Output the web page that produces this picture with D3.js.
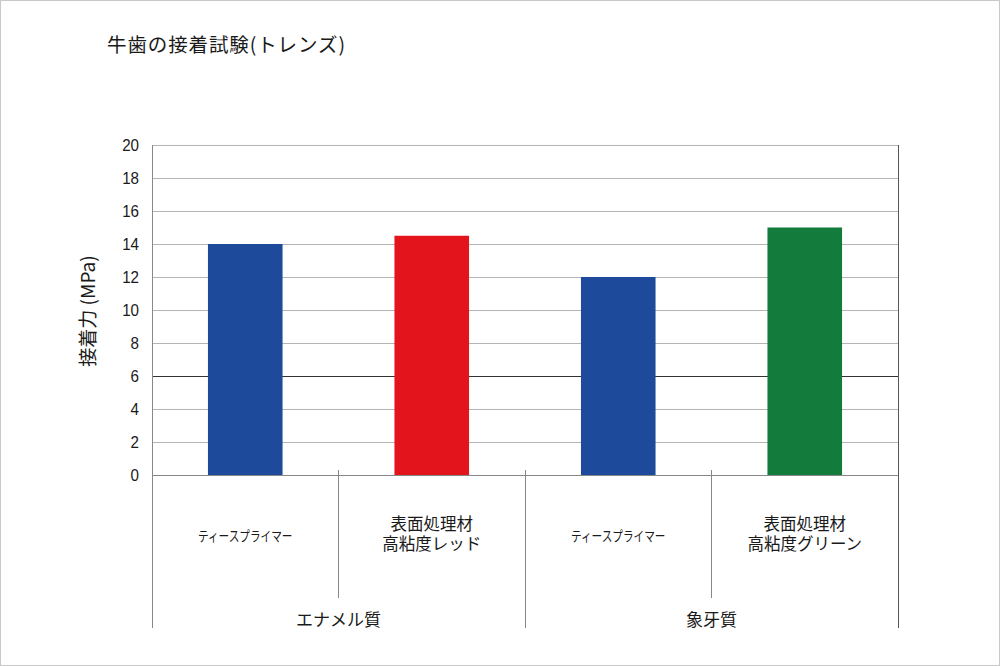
<!DOCTYPE html>
<html><head><meta charset="utf-8">
<script src="https://cdn.jsdelivr.net/npm/d3@7"></script>
<style>
html,body{margin:0;padding:0;background:#fff;}
svg{display:block;font-family:"Noto Sans CJK JP","Noto Sans",sans-serif;}
</style></head><body>
<svg id="c" width="1000" height="666"></svg>
<script>
const categories = ["ティースプライマー", "表面処理材\n高粘度レッド", "ティースプライマー", "表面処理材\n高粘度グリーン"];
const groups = ["エナメル質", "象牙質"];
const groupOf = [0, 0, 1, 1];
const values = [14, 14.5, 12, 15];
const colors = ["#1e4a9c", "#e3141b", "#1e4a9c", "#137b3b"];
const yTicks = [0, 2, 4, 6, 8, 10, 12, 14, 16, 18, 20];
const title = "牛歯の接着試験(トレンズ)";
const yLabel = "接着力 (MPa)";

const svg = d3.select("#c");
svg.append("rect").attr("x",0.5).attr("y",0.5).attr("width",999).attr("height",665)
  .attr("fill","#fff").attr("stroke","#c8c8c8");

const L=152, R=898, T=145, B=475;
const x = d3.scaleBand().domain(d3.range(categories.length)).range([L,R]).paddingInner(0).paddingOuter(0);
const y = d3.scaleLinear().domain([0,20]).range([B,T]);
const bw = x.bandwidth()*0.4;

// gridlines
svg.append("g").selectAll("line").data(yTicks).join("line")
  .attr("x1",L).attr("x2",R).attr("y1",d=>y(d)).attr("y2",d=>y(d))
  .attr("stroke",d=>d===6?"#333":(d===0?"#777":"#b4b4b4")).attr("stroke-width",1)
  .attr("shape-rendering","crispEdges");

// axis with labels
const yAxis = d3.axisLeft(y).tickValues(yTicks).tickSize(0).tickPadding(13);
const ga = svg.append("g").attr("transform",`translate(${L},0)`).call(yAxis);
ga.select(".domain").remove();
ga.selectAll("text").attr("font-family","Liberation Sans, Arial, sans-serif").attr("font-size",16.5).attr("fill","#1a1a1a")
  .attr("transform","scale(0.92,1)").attr("x",-13/0.92);

// bars
svg.append("g").selectAll("rect").data(values).join("rect")
  .attr("x",(d,i)=>x(i)+(x.bandwidth()-bw)/2).attr("width",bw)
  .attr("y",d=>y(d)).attr("height",d=>B-y(d))
  .attr("fill",(d,i)=>colors[i]);

// frame lines
const fl = svg.append("g").attr("stroke","#888").attr("shape-rendering","crispEdges");
fl.append("line").attr("x1",L).attr("x2",L).attr("y1",T).attr("y2",628);
fl.append("line").attr("x1",R).attr("x2",R).attr("y1",T).attr("y2",628).attr("stroke","#555");
fl.append("line").attr("x1",L).attr("x2",R).attr("y1",B).attr("y2",B);
[1,3].forEach(i=>fl.append("line").attr("x1",x(i)).attr("x2",x(i)).attr("y1",470).attr("y2",598));
fl.append("line").attr("x1",x(2)).attr("x2",x(2)).attr("y1",470).attr("y2",628);

// category labels
categories.forEach((c,i)=>{
  const lines = c.split("\n");
  const cx = x(i)+x.bandwidth()/2;
  if(lines.length===1){
    svg.append("text").attr("text-anchor","middle").attr("fill","#1a1a1a").attr("font-size",14)
      .attr("x",cx).attr("y",541).attr("transform",`translate(${cx},0) scale(0.76,1) translate(${-cx},0)`).text(lines[0]);
  } else {
    lines.forEach((ln,k)=>svg.append("text").attr("text-anchor","middle").attr("fill","#1a1a1a")
      .attr("font-size",16.5).attr("x",cx).attr("y",530+k*20).text(ln));
  }
});
// group labels
groups.forEach((g,gi)=>{
  const idx = d3.range(categories.length).filter(i=>groupOf[i]===gi);
  const cx = (x(idx[0]) + x(idx[idx.length-1])+x.bandwidth())/2;
  svg.append("text").attr("x",cx).attr("y",626).attr("text-anchor","middle")
    .attr("font-size",17).attr("fill","#1a1a1a").text(g);
});

// title
svg.append("text").attr("x",107).attr("y",52).attr("font-size",19.5).attr("fill","#1a1a1a")
  .attr("textLength",238).attr("lengthAdjust","spacing").text(title);
// y label
svg.append("text").attr("transform",`translate(95,311) rotate(-90)`).attr("text-anchor","middle")
  .attr("font-size",19).attr("fill","#1a1a1a").text(yLabel);
</script>
</body></html>
